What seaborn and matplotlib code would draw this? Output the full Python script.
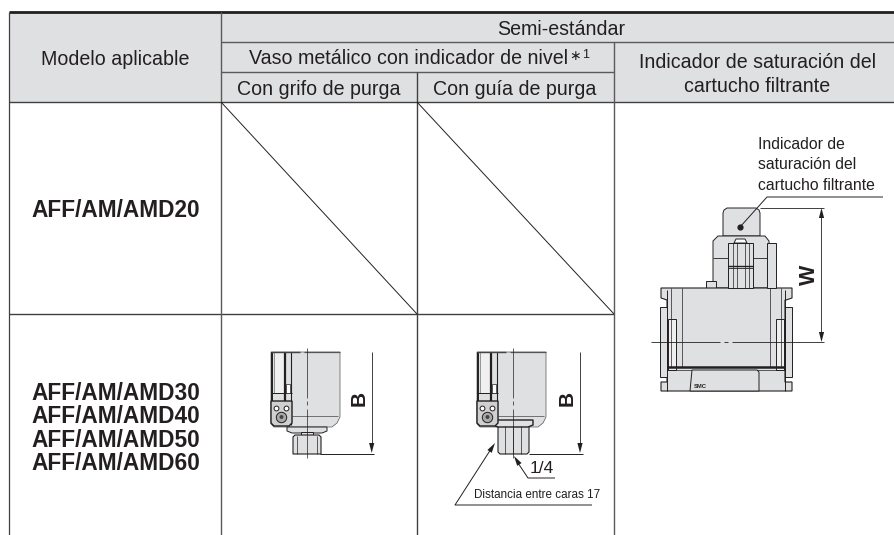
import matplotlib
matplotlib.use("Agg")
import matplotlib.pyplot as plt
import seaborn as sns
import numpy as np

# table structure, in pixels of the reference
col_x = [9, 221, 417, 614, 895]
row_y = [12, 42, 72, 102, 314, 535]
header_fill = "#dfe0e2"
ink = "#231f20"
rule = "#5a5a5a"

# text positions are baselines
header_texts = ["Modelo aplicable", "Semi-estándar", "Vaso metálico con indicador de nivel",
                "Con grifo de purga", "Con guía de purga",
                "Indicador de saturación del", "cartucho filtrante"]
header_x = [115, 561, 409, 319, 515, 757.5, 757]
header_y = [65, 35, 64, 95, 95, 68, 92]

model_labels = ["AFF/AM/AMD20", "AFF/AM/AMD30", "AFF/AM/AMD40", "AFF/AM/AMD50", "AFF/AM/AMD60"]
model_y = [217, 400, 423, 447, 470]
note_lines = ["Indicador de", "saturación del", "cartucho filtrante"]
note_y = [149, 169, 190]

sns.set_style("white")
plt.rcParams['font.family'] = ['Liberation Sans', 'DejaVu Sans']

fig = plt.figure(figsize=(8.95, 5.35), dpi=100)
ax = fig.add_axes([0, 0, 1, 1])
ax.set_xlim(0, 895)
ax.set_ylim(535, 0)
ax.axis("off")


def line(xs, ys, lw=0.7, color=ink, z=3):
    sns.lineplot(x=xs, y=ys, ax=ax, sort=False, estimator=None, errorbar=None,
                 linewidth=lw, color=color, zorder=z, solid_capstyle="butt")


def shape(xs, ys, fill="white", edge=ink, lw=0.7, z=2):
    ax.fill(xs, ys, facecolor=fill, edgecolor=edge, linewidth=lw, zorder=z)


def arrow(x0, y0, x1, y1):
    # solid head pointing to x1, y1
    d = np.array([x1 - x0, y1 - y0], dtype=float)
    d = d / np.hypot(*d)
    n = np.array([-d[1], d[0]])
    tip = np.array([x1, y1])
    base = tip - d * 10
    pts = np.array([tip, base + n * 2.6, base - n * 2.6])
    ax.fill(pts[:, 0], pts[:, 1], color=ink, lw=0, zorder=5)


def grid():
    ax.fill([col_x[0], col_x[4], col_x[4], col_x[0]], [row_y[0], row_y[0], row_y[3], row_y[3]],
            color=header_fill, lw=0, zorder=0)
    line([col_x[0], col_x[4]], [row_y[0], row_y[0]], lw=2.0)
    line([col_x[1], col_x[4]], [row_y[1], row_y[1]], lw=1.0, color=rule)
    line([col_x[1], col_x[3]], [row_y[2], row_y[2]], lw=1.0, color=rule)
    line([col_x[0], col_x[4]], [row_y[3], row_y[3]], lw=1.0, color="#404040")
    line([col_x[0], col_x[3]], [row_y[4], row_y[4]], lw=1.0, color="#404040")
    line([col_x[0], col_x[0]], [row_y[0], row_y[5]], lw=0.9, color="#404040")
    line([col_x[1], col_x[1]], [row_y[0], row_y[5]], lw=1.0, color=rule)
    line([col_x[2], col_x[2]], [row_y[2], row_y[5]], lw=1.0, color="#404040")
    line([col_x[3], col_x[3]], [row_y[1], row_y[5]], lw=1.0, color=rule)
    line([col_x[1], col_x[2]], [row_y[3], row_y[4]], lw=0.7)
    line([col_x[2], col_x[3]], [row_y[3], row_y[4]], lw=0.7)


def bowl(dx):
    # metal bowl with level indicator, dx shifts it to the second column
    body_x = np.array([271, 340, 340, 337, 332, 274, 271])
    body_y = [352, 352, 417, 423, 427, 427, 424]
    shape(body_x + dx, body_y, fill=header_fill, edge="#555555", lw=0.5)
    shape(np.array([274, 284, 284, 274]) + dx, [352, 352, 393, 393], fill="#f0f0f0", edge="#555555", lw=0.4, z=3)
    for x, w in [(272, 1.4), (285.5, 1.6), (291, 0.8)]:
        line([x + dx, x + dx], [352, 401 if x < 291 else 425], lw=w, z=3)
    line([271 + dx, 300 + dx], [352, 352], lw=1.0, color="#444444", z=4)
    line([304 + dx, 340 + dx], [352, 352], lw=0.9, color="#555555", z=4)
    line([271 + dx, 292 + dx], [393, 393], lw=0.7)
    line([292 + dx, 338 + dx], [416, 416], lw=0.5, color="#444444")
    shape(np.array([286, 290, 290, 286]) + dx, [384, 384, 393, 393], fill="white", lw=0.5, z=4)
    # connector block
    shape(np.array([271, 292, 292, 289, 274, 271]) + dx, [401, 401, 423, 426, 426, 423],
          fill="#d0d0d0", edge=ink, lw=1.0, z=4)
    for cx in [276.5, 286]:
        ax.scatter([cx + dx], [408], s=12, facecolor="white", edgecolor=ink, lw=0.7, zorder=5)
    ax.scatter([281.5 + dx], [417], s=56, facecolor="#aaaaaa", edgecolor=ink, lw=0.7, zorder=5)
    ax.scatter([281.5 + dx], [417], s=8, facecolor="#444444", edgecolor="none", zorder=6)


def bowl_common(dx):
    # centre line
    line([306.7 + dx, 306.7 + dx], [348, 398], lw=0.5, z=6)
    line([306.7 + dx, 306.7 + dx], [401, 405], lw=0.5, z=6)
    line([306.7 + dx, 306.7 + dx], [409, 458], lw=0.5, z=6)


def drawing_drain_cock():
    bowl(0)
    shape([287, 327, 327, 322, 292, 287], [427, 427, 431, 433, 433, 431], fill=header_fill, lw=0.7)
    shape([301, 313, 313, 301], [432, 432, 436, 436], fill=header_fill, lw=0.7)
    shape([295, 319, 321, 321, 293, 293], [435, 435, 437, 454, 454, 437], fill=header_fill, lw=0.8)
    for x in [297, 317]:
        line([x, x], [436, 454], lw=0.5)
    bowl_common(0)
    line([371.7, 371.7], [352, 445], lw=0.6)
    arrow(371.7, 400, 371.7, 453)
    line([320, 374], [453.5, 453.5], lw=0.7)
    ax.text(359, 398, "B", rotation=90, fontsize=15, fontweight="bold", ha="center", va="center", color=ink)


def drawing_drain_guide():
    bowl(206)
    shape([493, 533, 533, 528, 498, 493], [420, 420, 425, 427, 427, 425], fill=header_fill, edge=ink, lw=1.0, z=3)
    shape([498, 529, 529, 527, 500, 498], [426, 426, 452, 454, 454, 452], fill=header_fill, lw=0.8)
    for x in [505, 513, 521]:
        line([x, x], [426, 454], lw=0.5)
    bowl_common(206)
    line([580, 580], [352, 445], lw=0.6)
    arrow(580, 400, 580, 453)
    line([529, 583], [453.5, 453.5], lw=0.7)
    ax.text(567, 398, "B", rotation=90, fontsize=15, fontweight="bold", ha="center", va="center", color=ink)
    # leaders
    line([555, 528, 516], [478, 478, 460], lw=0.7)
    arrow(528, 478, 514, 456)
    ax.text(530, 473, "1/4", fontsize=12.5, va="baseline", ha="left", color=ink)
    line([592, 455, 491], [505, 505, 449], lw=0.7)
    arrow(455, 505, 495, 443)
    ax.text(474, 498, "Distancia entre caras 17", fontsize=8.4, va="baseline", ha="left", color=ink)


def drawing_indicator():
    g = header_fill
    # head and neck
    shape([723, 723, 724, 727, 756, 759, 760, 760], [236, 213, 210, 208, 208, 210, 213, 236], fill=g)
    shape([713, 713, 718, 765, 769, 769], [288, 241, 236, 236, 241, 288], fill=g)
    shape([767, 776, 776, 767], [243, 243, 288, 288], fill=g, z=3)
    shape([728, 753, 753, 728], [243, 243, 288, 288], fill=g, z=3)
    shape([734, 736, 745, 747, 747, 734], [243, 239, 239, 243, 243, 243], fill="white", z=3)
    line([728, 753], [266, 266], lw=1.0, z=4)
    line([728, 753], [268, 268], lw=0.6, z=4)
    line([713, 728], [258, 258], lw=0.6)
    line([753, 767], [258, 258], lw=0.6)
    for x in [733, 737, 745, 749]:
        line([x, x], [243, 288], lw=0.5, z=4)
    shape([706, 716, 716, 706], [281, 281, 288, 288], fill=g)
    # main body
    shape([661, 792, 792, 786, 785, 785, 792, 792, 661, 661, 667, 667, 661],
          [288, 288, 298, 300, 300, 382, 382, 391, 391, 382, 382, 300, 298], fill=g, lw=0.8)
    for x in [671, 682, 770, 781]:
        line([x, x], [288, 367], lw=0.5, z=4)
    for x in [667, 785]:
        line([x, x], [290, 391], lw=0.7, z=4)
    # side bars and clips
    shape([660, 667, 667, 660], [307, 307, 377, 377], fill=g, z=3)
    shape([785, 792, 792, 785], [307, 307, 377, 377], fill=g, z=3)
    shape([668, 676, 676, 668], [319, 319, 370, 370], fill="#efefef", z=3)
    shape([776, 784, 784, 776], [319, 319, 370, 370], fill="#efefef", z=3)
    line([667, 785], [367, 367], lw=1.8, z=4)
    line([667, 785], [369.5, 369.5], lw=0.5, z=4)
    shape([690, 692, 757, 759, 759, 690], [391, 370, 370, 372, 391, 391], fill=g, z=4)
    ax.text(700, 387, "SMC", fontsize=4.2, fontweight="bold", ha="center", va="center", color=ink, zorder=6)
    # centre line and dimension W
    line([651, 720], [342, 342], lw=0.6, z=6)
    line([724, 728], [342, 342], lw=0.6, z=6)
    line([732, 824], [342, 342], lw=0.6, z=6)
    line([760, 824], [208, 208], lw=0.6)
    line([821.5, 821.5], [215, 335], lw=0.6)
    arrow(821.5, 260, 821.5, 208)
    arrow(821.5, 300, 821.5, 342)
    ax.text(809, 275, "W", rotation=90, fontsize=15.5, fontweight="bold", ha="center", va="center", color=ink)
    # leader to the head
    line([740, 767, 883], [227, 197, 197], lw=0.7, z=6)
    ax.scatter([740], [227], s=12, color=ink, zorder=6)
    for txt, y in zip(note_lines, note_y):
        ax.text(758, y, txt, fontsize=11.3, va="baseline", ha="left", color=ink)


grid()
for txt, x, y in zip(header_texts, header_x, header_y):
    ax.text(x, y, txt, fontsize=14.1, ha="center", va="baseline", color=ink)
ax.text(569.5, 60, "∗", fontsize=10, ha="left", va="baseline", color=ink)
ax.text(582, 58, "1", fontsize=9, ha="left", va="baseline", color=ink)
for txt, y in zip(model_labels, model_y):
    ax.text(31, y, txt, fontsize=16.3, fontweight="bold", ha="left", va="baseline", color=ink)

drawing_drain_cock()
drawing_drain_guide()
drawing_indicator()

fig.savefig("out.png", dpi=100)
